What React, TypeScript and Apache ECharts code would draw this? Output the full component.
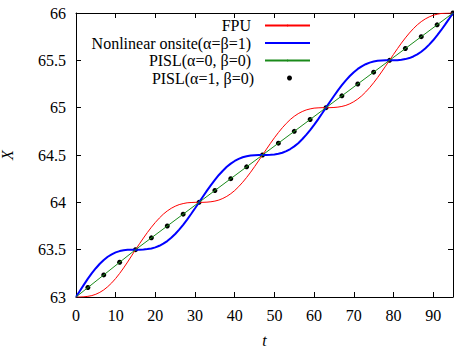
import React, { useEffect, useRef } from "react";
import * as echarts from "echarts";

// time axis samples
const tValues = [
  0, 1, 2, 3, 4, 5, 6, 7, 8, 9, 10, 11, 12, 13, 14, 15,
  16, 17, 18, 19, 20, 21, 22, 23, 24, 25, 26, 27, 28, 29, 30,
  31, 32, 33, 34, 35, 36, 37, 38, 39, 40, 41, 42, 43, 44, 45, 46,
  47, 48, 49, 50, 51, 52, 53, 54, 55, 56, 57, 58, 59, 60, 61, 62,
  63, 64, 65, 66, 67, 68, 69, 70, 71, 72, 73, 74, 75, 76, 77, 78,
  79, 80, 81, 82, 83, 84, 85, 86, 87, 88, 89, 90, 91, 92, 93, 94,
  95,
];

const fpuValues = [
  63, 63.0, 63.002, 63.007, 63.015, 63.029, 63.049, 63.075, 63.109, 63.149, 63.196, 63.249, 63.307, 63.369, 63.434, 63.5,
  63.562, 63.623, 63.682, 63.737, 63.788, 63.834, 63.875, 63.909, 63.937, 63.959, 63.976, 63.987, 63.995, 63.998, 64.0,
  64, 64.0, 64.002, 64.006, 64.013, 64.024, 64.041, 64.063, 64.091, 64.125, 64.166, 64.212, 64.263, 64.318, 64.377, 64.438,
  64.5, 64.562, 64.623, 64.682, 64.737, 64.788, 64.834, 64.875, 64.909, 64.937, 64.959, 64.976, 64.987, 64.995, 64.998, 65.0,
  65, 65.0, 65.002, 65.006, 65.013, 65.024, 65.041, 65.063, 65.091, 65.125, 65.166, 65.212, 65.263, 65.318, 65.377, 65.438,
  65.5, 65.562, 65.623, 65.682, 65.737, 65.788, 65.834, 65.875, 65.909, 65.937, 65.959, 65.976, 65.987, 65.995, 65.998, 66.0,
  66,
];

const onsiteValues = [
  63, 63.066, 63.131, 63.194, 63.252, 63.304, 63.351, 63.391, 63.425, 63.451, 63.471, 63.485, 63.494, 63.498, 63.5, 63.5,
  63.5, 63.502, 63.506, 63.513, 63.524, 63.541, 63.563, 63.591, 63.625, 63.666, 63.712, 63.763, 63.818, 63.877, 63.938,
  64, 64.062, 64.123, 64.182, 64.237, 64.289, 64.334, 64.375, 64.409, 64.437, 64.459, 64.476, 64.487, 64.495, 64.498, 64.5,
  64.5, 64.5, 64.502, 64.506, 64.513, 64.524, 64.541, 64.563, 64.591, 64.625, 64.666, 64.712, 64.763, 64.818, 64.877, 64.938,
  65, 65.062, 65.123, 65.182, 65.237, 65.289, 65.334, 65.375, 65.409, 65.437, 65.459, 65.476, 65.487, 65.495, 65.498, 65.5,
  65.5, 65.5, 65.502, 65.506, 65.513, 65.524, 65.541, 65.563, 65.591, 65.625, 65.666, 65.712, 65.763, 65.818, 65.877, 65.938,
  66,
];

const pislLineT = [0, 15, 95];
const pislLineValues = [63, 63.5, 66];

const pislDotT = [3, 7, 11, 15, 19, 23, 27, 31, 35, 39, 43, 47, 51, 55, 59, 63, 67, 71, 75, 79, 83, 87, 91, 95];
const pislDotValues = [
  63.1, 63.233, 63.367, 63.5, 63.625, 63.75, 63.875, 64.0, 64.125, 64.25, 64.375, 64.5,
  64.625, 64.75, 64.875, 65.0, 65.125, 65.25, 65.375, 65.5, 65.625, 65.75, 65.875, 66.0,
];

const seriesNames = [
  "FPU",
  "Nonlinear onsite(α=β=1)",
  "PISL(α=0, β=0)",
  "PISL(α=1, β=0)",
];

const FONT = "'Liberation Serif', 'DejaVu Serif', serif";

export default function App() {
  const ref = useRef<HTMLDivElement>(null);

  useEffect(() => {
    document.body.style.margin = "0";
    if (!ref.current) return;
    const chart = echarts.init(ref.current, undefined, { renderer: "svg" });

    const zip = (xs: number[], ys: number[]) => xs.map((x, i) => [x, ys[i]]);

    const axisLine = { show: true, onZero: false, lineStyle: { color: "#000", width: 1 } };
    const axisTick = { show: true, inside: true, length: 5, lineStyle: { color: "#000", width: 1 } };
    const label = { color: "#000", fontFamily: FONT, fontSize: 16 };

    const legendRows = [25, 42.5, 60, 77.5];

    const legends = seriesNames.map((name, i) => {
      const isDot = i === 3;
      return {
        orient: "vertical",
        right: isDot ? 454 - 292 : 143,
        top: legendRows[i] - 7.5,
        padding: 0,
        align: "right",
        itemWidth: isDot ? 5 : 45,
        itemHeight: isDot ? 5 : 2,
        selectedMode: false,
        textStyle: { ...label, fontSize: 16, padding: [0, isDot ? 28 : 9, 0, 0], lineHeight: 15 },
        data: isDot ? [{ name, icon: "circle" }] : [{ name }],
      };
    });

    const option: any = {
      animation: false,
      grid: { left: 76, right: 1, top: 13, bottom: 50, containLabel: false, outerBoundsMode: "none" },
      legend: legends,
      xAxis: [
        {
          type: "value",
          min: 0,
          max: 95,
          interval: 10,
          position: "bottom",
          axisLine,
          axisTick,
          splitLine: { show: false },
          axisLabel: { ...label, margin: 10, showMaxLabel: false },
          name: "t",
          nameLocation: "middle",
          nameGap: 35,
          nameTextStyle: { ...label, fontStyle: "italic" },
        },
        {
          type: "value",
          min: 0,
          max: 95,
          interval: 10,
          position: "top",
          axisLine,
          axisTick,
          splitLine: { show: false },
          axisLabel: { show: false },
        },
      ],
      yAxis: [
        {
          type: "value",
          min: 63,
          max: 66,
          interval: 0.5,
          position: "left",
          axisLine,
          axisTick,
          splitLine: { show: false },
          axisLabel: { ...label, margin: 10 },
          name: "X",
          nameLocation: "middle",
          nameGap: 61,
          nameRotate: 90,
          nameTextStyle: { ...label, fontStyle: "italic" },
        },
        {
          type: "value",
          min: 63,
          max: 66,
          interval: 0.5,
          position: "right",
          axisLine,
          axisTick,
          splitLine: { show: false },
          axisLabel: { show: false },
        },
      ],
      series: [
        {
          name: seriesNames[0],
          type: "line",
          data: zip(tValues, fpuValues),
          symbol: "none",
          lineStyle: { color: "#ff0000", width: 1 },
          itemStyle: { color: "#ff0000" },
        },
        {
          name: seriesNames[1],
          type: "line",
          data: zip(tValues, onsiteValues),
          symbol: "none",
          lineStyle: { color: "#0000ff", width: 2 },
          itemStyle: { color: "#0000ff" },
        },
        {
          name: seriesNames[2],
          type: "line",
          data: zip(pislLineT, pislLineValues),
          symbol: "none",
          lineStyle: { color: "#1a8a1a", width: 1 },
          itemStyle: { color: "#1a8a1a" },
        },
        {
          name: seriesNames[3],
          type: "scatter",
          data: zip(pislDotT, pislDotValues),
          symbol: "circle",
          symbolSize: 5,
          itemStyle: { color: "#000000", opacity: 1 },
        },
      ],
    };

    chart.setOption(option);
    return () => chart.dispose();
  }, []);

  return <div ref={ref} style={{ width: 454, height: 347 }} />;
}
